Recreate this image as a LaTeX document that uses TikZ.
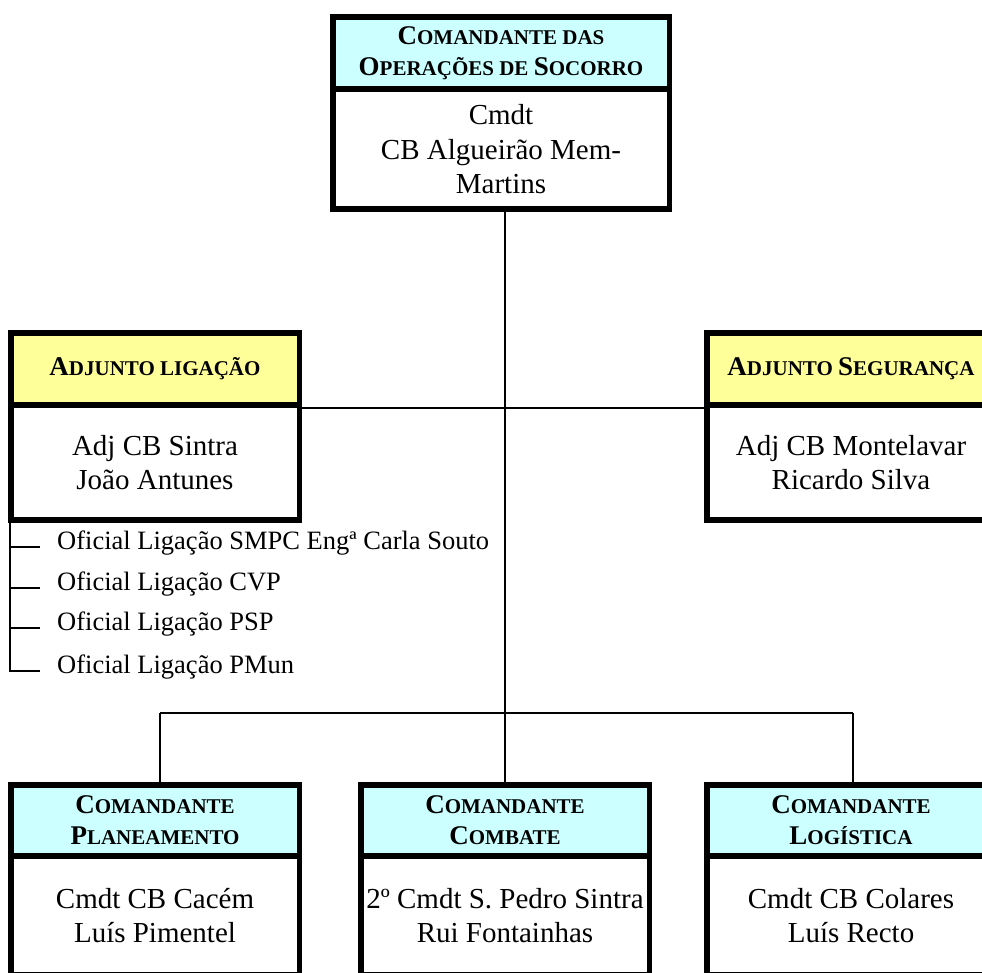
\documentclass[tikz,border=0pt]{standalone}
\usepackage{fontspec}
\setmainfont{Liberation Serif}
\definecolor{hdrcyan}{RGB}{204,255,255}
\definecolor{hdryellow}{RGB}{255,255,153}
% reduced capitals for the header titles
\newcommand\smcap[1]{{\fontsize{21}{31}\selectfont #1}}
\tikzset{
  box/.style={draw=black, line width=5.5pt, inner sep=0pt, align=center},
  hdr/.style={box, font=\fontsize{27}{31}\selectfont\bfseries},
  cyanhdr/.style={hdr, fill=hdrcyan},
  yellowhdr/.style={hdr, fill=hdryellow},
  body/.style={box, fill=white, font=\fontsize{29}{34.5}\selectfont},
  conn/.style={line width=1.6pt},
  liaison/.style={anchor=mid west, inner sep=0pt, font=\fontsize{26.5}{30}\selectfont},
}
\begin{document}
\begin{tikzpicture}[x=1pt, y=-1pt]
\useasboundingbox (0,0) rectangle (982,972);
\clip (0,0) rectangle (982,972);

% commander of operations
\node[body, minimum width=336.5pt, minimum height=120.25pt] (cosB) at (501,149.1)
  {Cmdt\\CB Algueirão Mem-\\Martins};
\node[cyanhdr, minimum width=336.5pt, minimum height=72.25pt] (cosH) at (501,52.9)
  {C\smcap{OMANDANTE DAS}\\O\smcap{PERAÇÕES DE }S\smcap{OCORRO}};

% deputies
\node[body, minimum width=288.5pt, minimum height=115.25pt] (ladjB) at (155,462.6)
  {Adj CB Sintra\\João Antunes};
\node[yellowhdr, minimum width=288.5pt, minimum height=72.25pt] (ladjH) at (155,368.9)
  {A\smcap{DJUNTO LIGAÇÃO}};
\node[body, minimum width=288.5pt, minimum height=115.25pt] (radjB) at (851,462.6)
  {Adj CB Montelavar\\Ricardo Silva};
\node[yellowhdr, minimum width=288.5pt, minimum height=72.25pt] (radjH) at (851,368.9)
  {A\smcap{DJUNTO }S\smcap{EGURANÇA}};

% section commanders
\node[body, minimum width=288.5pt, minimum height=119pt] (plB) at (155,915.5)
  {Cmdt CB Cacém\\Luís Pimentel};
\node[cyanhdr, minimum width=288.5pt, minimum height=71.25pt] (plH) at (155,820.4)
  {C\smcap{OMANDANTE}\\P\smcap{LANEAMENTO}};
\node[body, minimum width=288.5pt, minimum height=119pt] (cbB) at (505,915.5)
  {2º Cmdt S. Pedro Sintra\\Rui Fontainhas};
\node[cyanhdr, minimum width=288.5pt, minimum height=71.25pt] (cbH) at (505,820.4)
  {C\smcap{OMANDANTE}\\C\smcap{OMBATE}};
\node[body, minimum width=288.5pt, minimum height=119pt] (lgB) at (851,915.5)
  {Cmdt CB Colares\\Luís Recto};
\node[cyanhdr, minimum width=288.5pt, minimum height=71.25pt] (lgH) at (851,820.4)
  {C\smcap{OMANDANTE}\\L\smcap{OGÍSTICA}};

% liaison officers
\node[liaison] (o1) at (57,547) {Oficial Ligação SMPC Engª Carla Souto};
\node[liaison] (o2) at (57,588) {Oficial Ligação CVP};
\node[liaison] (o3) at (57,628) {Oficial Ligação PSP};
\node[liaison] (o4) at (57,671) {Oficial Ligação PMun};

% connectors
\coordinate (busL) at (160,713);
\coordinate (busM) at (505,713);
\coordinate (busR) at (853,713);
\coordinate (spine) at (10,520);
\coordinate (tick4) at (40,671);

\draw[conn] (cosB.south -| busM) -- (busM);
\draw[conn] (ladjH.south east) -- (radjH.south west);
\draw[conn] (busL) -- (busR);
\draw[conn] (busL) -- (plH.north -| busL);
\draw[conn] (busM) -- (cbH.north);
\draw[conn] (busR) -- (lgH.north -| busR);

\draw[conn] (spine) |- (tick4);
\draw[conn] (spine |- o1.mid west) -- +(30,0);
\draw[conn] (spine |- o2.mid west) -- +(30,0);
\draw[conn] (spine |- o3.mid west) -- +(30,0);
\end{tikzpicture}
\end{document}
